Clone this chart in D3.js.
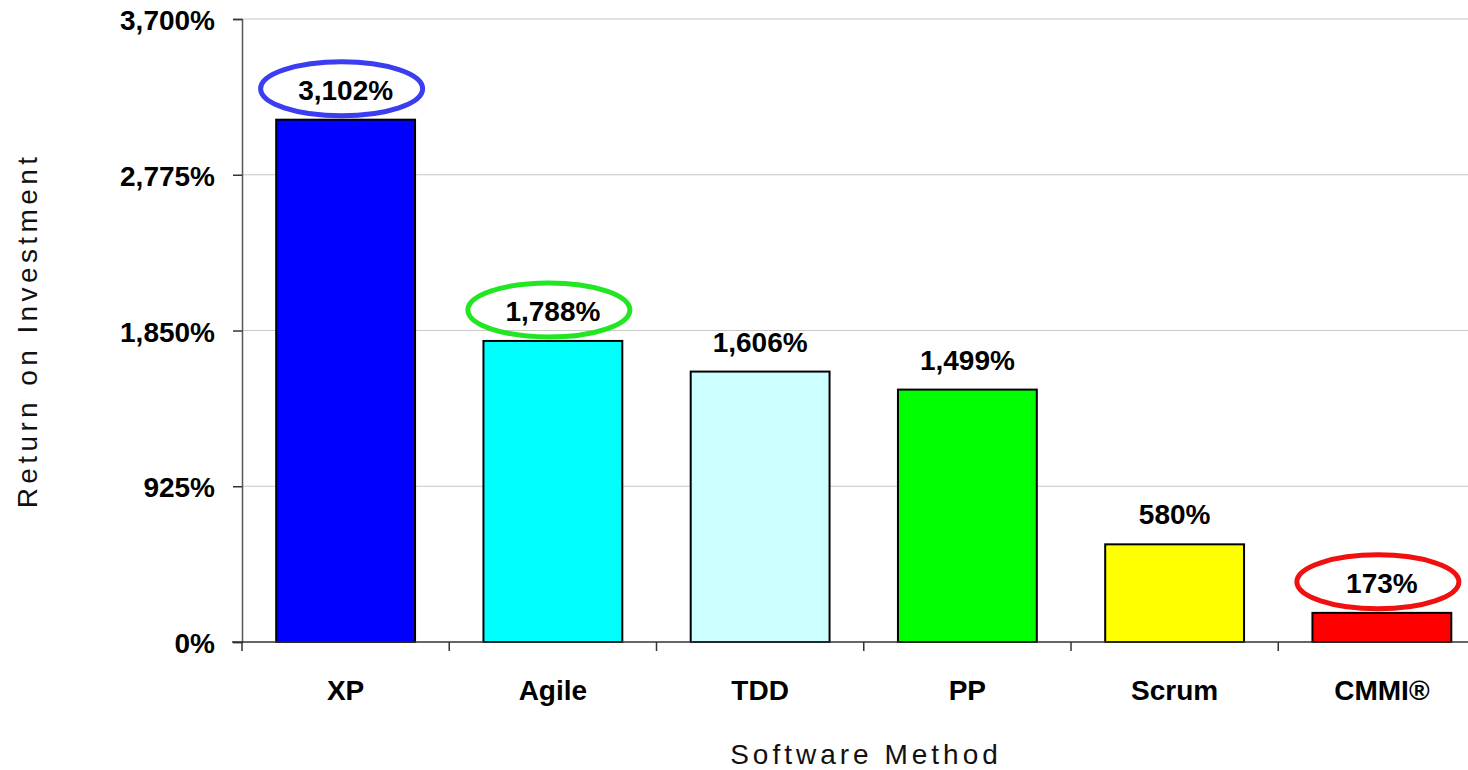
<!DOCTYPE html>
<html>
<head>
<meta charset="utf-8">
<script src="https://cdn.jsdelivr.net/npm/d3@7"></script>
<style>
  body { margin: 0; background: #fff; }
  svg { display: block; }
</style>
</head>
<body>
<div id="chart"></div>
<script>
// Data
const methods = ["XP", "Agile", "TDD", "PP", "Scrum", "CMMI®"];
const roi = [3102, 1788, 1606, 1499, 580, 173];
const barColors = ["#0000ff", "#00ffff", "#ccffff", "#00ff00", "#ffff00", "#ff0000"];
const yTicks = [0, 925, 1850, 2775, 3700];
// highlighted labels
const circled = ["XP", "Agile", "CMMI®"];
const circleColors = ["#3c3cf0", "#22e622", "#f01010"];

const width = 1468, height = 770;
const margin = { top: 19, left: 242, bottom: 128 };
const band = 207.25;
const boldFont = "'Liberation Sans', Arial, sans-serif";

const svg = d3.select("#chart").append("svg")
  .attr("width", width)
  .attr("height", height);

const x = d3.scaleBand()
  .domain(methods)
  .range([margin.left, margin.left + band * methods.length])
  .paddingInner(0.33)
  .paddingOuter(0.165);

const y = d3.scaleLinear()
  .domain([0, 3700])
  .range([height - margin.bottom, margin.top]);

const fmt = d => d3.format(",")(d) + "%";

// Gridlines
svg.append("g")
  .selectAll("line")
  .data(yTicks.filter(d => d > 0))
  .enter().append("line")
  .attr("x1", margin.left)
  .attr("x2", width)
  .attr("y1", d => y(d))
  .attr("y2", d => y(d))
  .attr("stroke", "#c8c8c8")
  .attr("stroke-width", 1);

// Y axis
const yAxis = svg.append("g")
  .attr("transform", `translate(${margin.left},0)`)
  .call(d3.axisLeft(y).tickValues(yTicks).tickFormat(fmt).tickSize(9).tickPadding(18));
yAxis.select(".domain").attr("stroke", "#555").attr("stroke-width", 1.5);
yAxis.selectAll(".tick line").attr("stroke", "#333").attr("stroke-width", 1.5);
yAxis.selectAll(".tick text")
  .style("font-family", boldFont)
  .style("font-weight", "bold")
  .style("font-size", "28px")
  .attr("fill", "#000")
  .attr("dy", "0.38em");

// Bars
svg.append("g")
  .selectAll("rect")
  .data(methods)
  .enter().append("rect")
  .attr("x", d => x(d))
  .attr("width", x.bandwidth())
  .attr("y", (d, i) => y(roi[i]))
  .attr("height", (d, i) => y(0) - y(roi[i]))
  .attr("fill", (d, i) => barColors[i])
  .attr("stroke", "#000")
  .attr("stroke-width", 2);

// X axis
const xAxis = svg.append("g")
  .attr("transform", `translate(0,${y(0)})`);
xAxis.append("line")
  .attr("x1", margin.left - 10)
  .attr("x2", width)
  .attr("stroke", "#333")
  .attr("stroke-width", 1.5);
xAxis.selectAll(".sep")
  .data(d3.range(methods.length + 1))
  .enter().append("line")
  .attr("class", "sep")
  .attr("x1", i => margin.left + i * band)
  .attr("x2", i => margin.left + i * band)
  .attr("y1", 0)
  .attr("y2", 9)
  .attr("stroke", "#333")
  .attr("stroke-width", 1.5);
xAxis.selectAll(".cat")
  .data(methods)
  .enter().append("text")
  .attr("class", "cat")
  .attr("x", d => x(d) + x.bandwidth() / 2)
  .attr("y", 58)
  .attr("text-anchor", "middle")
  .style("font-family", boldFont)
  .style("font-weight", "bold")
  .style("font-size", "28px")
  .text(d => d);

// Value labels
svg.append("g")
  .selectAll("text")
  .data(methods)
  .enter().append("text")
  .attr("x", d => x(d) + x.bandwidth() / 2)
  .attr("y", (d, i) => y(roi[i]) - 20)
  .attr("text-anchor", "middle")
  .style("font-family", boldFont)
  .style("font-weight", "bold")
  .style("font-size", "28px")
  .text((d, i) => fmt(roi[i]));

// Highlight ellipses
svg.append("g")
  .selectAll("ellipse")
  .data(circled)
  .enter().append("ellipse")
  .attr("cx", d => x(d) + x.bandwidth() / 2 - 4)
  .attr("cy", d => y(roi[methods.indexOf(d)]) - 31)
  .attr("rx", 81)
  .attr("ry", 27)
  .attr("fill", "none")
  .attr("stroke", (d, i) => circleColors[i])
  .attr("stroke-width", 5);

// Axis titles
svg.append("text")
  .attr("transform", `translate(37,${(margin.top + y(0)) / 2}) rotate(-90)`)
  .attr("text-anchor", "middle")
  .style("font-family", boldFont)
  .style("font-size", "28px")
  .style("letter-spacing", "4.4px")
  .attr("fill", "#111")
  .text("Return on Investment");

svg.append("text")
  .attr("x", 866)
  .attr("y", 764)
  .attr("text-anchor", "middle")
  .style("font-family", boldFont)
  .style("font-size", "28px")
  .style("letter-spacing", "4px")
  .attr("fill", "#111")
  .text("Software Method");
</script>
</body>
</html>
